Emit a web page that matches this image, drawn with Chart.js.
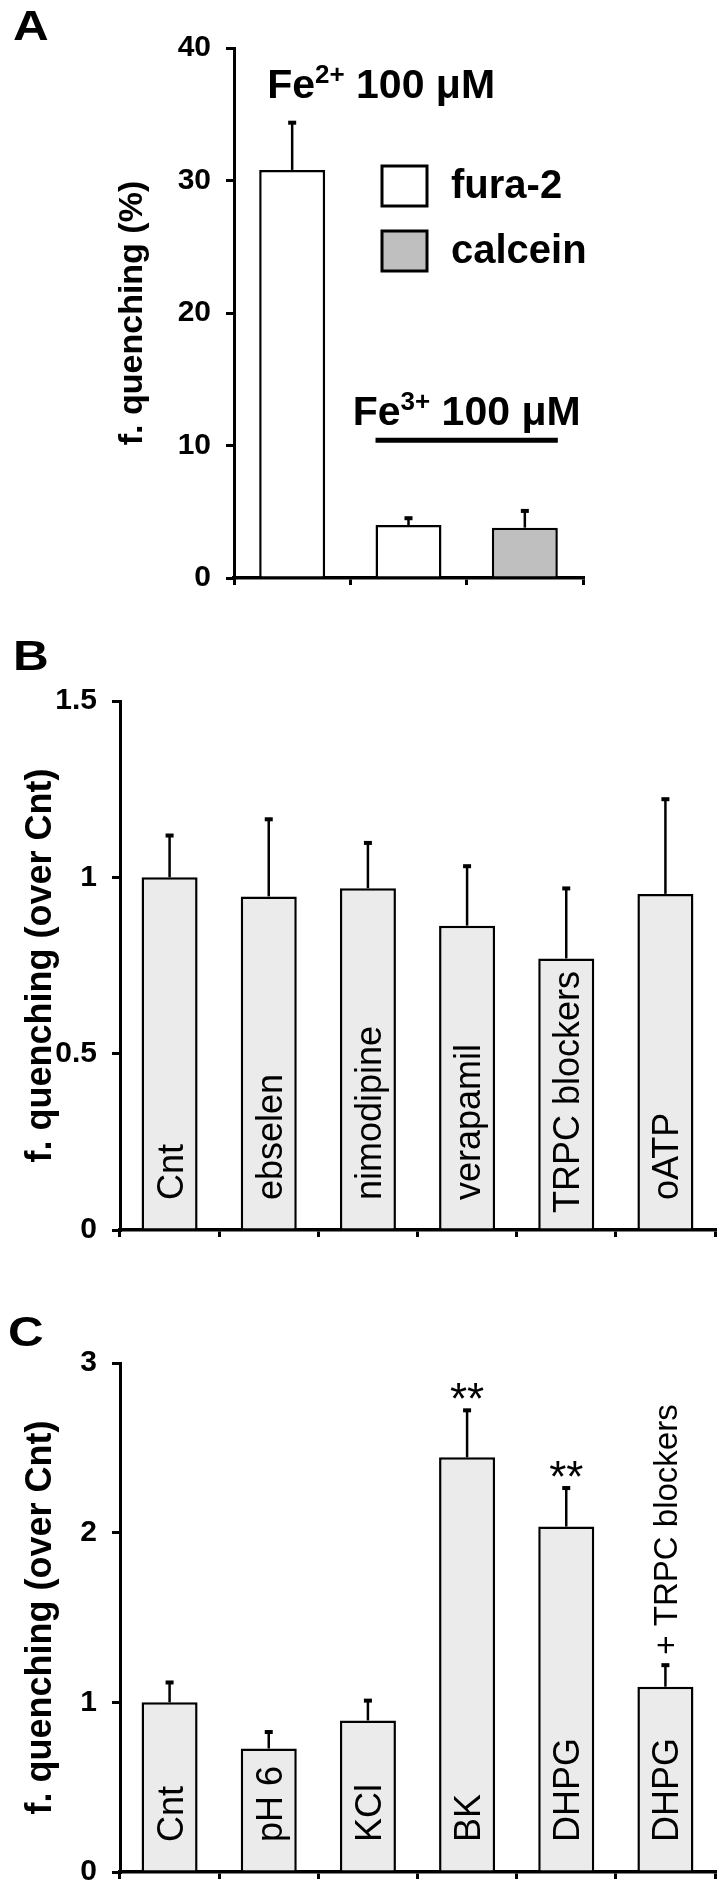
<!DOCTYPE html>
<html>
<head>
<meta charset="utf-8">
<script src="https://cdn.jsdelivr.net/npm/chart.js"></script>
<style>
    body { margin: 0; background: #fff; }
    #page { position: relative; width: 722px; height: 1902px; overflow: hidden; font-family: "Liberation Sans", Arial, sans-serif; }
    canvas { position: absolute; left: 0; }
    .letter { position: absolute; font-weight: bold; font-size: 43px; line-height: 1; color: #000; transform: scaleX(1.15); transform-origin: left top; }
</style>
</head>
<body>
<div id="page">
    <canvas id="chartA" width="722" height="620" style="top:0"></canvas>
    <canvas id="chartB" width="722" height="650" style="top:620px"></canvas>
    <canvas id="chartC" width="722" height="632" style="top:1270px"></canvas>
    <div class="letter" style="left:13px;top:4px">A</div>
    <div class="letter" style="left:13px;top:634px">B</div>
    <div class="letter" style="left:8px;top:1310px">C</div>
</div>
<script>
// ---- panel A: iron quenching ----
const ironLabels = ['Fe2+ fura-2', 'Fe3+ fura-2', 'Fe3+ calcein'];
const furaMeans = [30.8, 4.0, null];
const furaSem = [3.6, 0.55, null];
const calceinMeans = [null, null, 3.8];
const calceinSem = [null, null, 1.3];
const ticksA = [0, 10, 20, 30, 40];

// ---- panel B: blockers ----
const blockerLabels = ['Cnt', 'ebselen', 'nimodipine', 'verapamil', 'TRPC blockers', 'oATP'];
const blockerMeans = [1.00, 0.946, 0.969, 0.863, 0.770, 0.953];
const blockerSem = [0.12, 0.22, 0.13, 0.17, 0.20, 0.27];
const ticksB = [0, 0.5, 1, 1.5];

// ---- panel C: stimuli ----
const stimLabels = ['Cnt', 'pH 6', 'KCl', 'BK', 'DHPG', 'DHPG'];
const stimNotes = ['', '', '', '', '', '+ TRPC blockers'];
const stimMeans = [1.00, 0.728, 0.893, 2.444, 2.036, 1.092];
const stimSem = [0.12, 0.10, 0.12, 0.28, 0.23, 0.13];
const stimStars = ['', '', '', '**', '**', ''];
const ticksC = [0, 1, 2, 3];

const FONT = '"Liberation Sans", Arial, sans-serif';
Chart.defaults.font.family = FONT;
Chart.defaults.color = '#000';

// error bars (upper half only), drawn from dataset.sem
const errorBars = {
    id: 'errorBars',
    afterDatasetsDraw(chart) {
        const ctx = chart.ctx;
        const y = chart.scales.y;
        chart.data.datasets.forEach((ds, i) => {
            chart.getDatasetMeta(i).data.forEach((bar, j) => {
                const v = ds.data[j], e = ds.sem[j];
                if (v == null || e == null) return;
                const top = y.getPixelForValue(v + e);
                ctx.save();
                ctx.strokeStyle = '#000';
                ctx.fillStyle = '#000';
                ctx.lineWidth = 2.5;
                ctx.beginPath();
                ctx.moveTo(bar.x, bar.y);
                ctx.lineTo(bar.x, top);
                ctx.stroke();
                ctx.fillRect(bar.x - 4, top - 1.5, 8, 4);
                ctx.restore();
            });
        });
    }
};

// y axis title, rotated, centred on the plot area
const yTitle = {
    id: 'yTitle',
    afterDraw(chart, args, opts) {
        const ctx = chart.ctx;
        const a = chart.chartArea;
        ctx.save();
        ctx.fillStyle = '#000';
        ctx.font = 'bold ' + opts.size + 'px ' + FONT;
        ctx.textAlign = 'center';
        ctx.textBaseline = 'middle';
        ctx.translate(opts.x, (a.top + a.bottom) / 2);
        ctx.rotate(-Math.PI / 2);
        ctx.fillText(opts.text, 0, 0);
        ctx.restore();
    }
};

// text rotated to read upwards, starting at (x, y)
function drawUp(ctx, text, x, y) {
    ctx.save();
    ctx.translate(x, y);
    ctx.rotate(-Math.PI / 2);
    ctx.textAlign = 'left';
    ctx.textBaseline = 'alphabetic';
    ctx.fillText(text, 0, 0);
    ctx.restore();
}

// "Fe2+ 100 μM" with superscript charge
function drawIon(ctx, charge, x, y, align) {
    const big = 'bold 41px ' + FONT, small = 'bold 26px ' + FONT;
    ctx.save();
    ctx.fillStyle = '#000';
    ctx.textBaseline = 'alphabetic';
    ctx.textAlign = 'left';
    ctx.font = big;
    const w1 = ctx.measureText('Fe').width;
    const w3 = ctx.measureText(' 100 μM').width;
    ctx.font = small;
    const w2 = ctx.measureText(charge).width;
    let x0 = x;
    if (align === 'center') x0 = x - (w1 + w2 + w3) / 2;
    ctx.font = big;
    ctx.fillText('Fe', x0, y);
    ctx.font = small;
    ctx.fillText(charge, x0 + w1, y - 15);
    ctx.font = big;
    ctx.fillText(' 100 μM', x0 + w1 + w2, y);
    ctx.restore();
}

// panel A: legend, ion labels and the Fe3+ bracket line
const panelAExtras = {
    id: 'panelAExtras',
    afterDatasetsDraw(chart) {
        const ctx = chart.ctx;
        const y = chart.scales.y;
        const fura = chart.getDatasetMeta(0).data;
        const calc = chart.getDatasetMeta(1).data;

        drawIon(ctx, '2+', fura[0].x - fura[0].width / 2 + 8, y.getPixelForValue(36.2), 'left');

        const l = fura[1].x - fura[1].width / 2;
        const r = calc[2].x + calc[2].width / 2;
        drawIon(ctx, '3+', (l + r) / 2, y.getPixelForValue(11.55), 'center');
        ctx.save();
        ctx.strokeStyle = '#000';
        ctx.lineWidth = 5;
        ctx.beginPath();
        ctx.moveTo(l, y.getPixelForValue(10.4));
        ctx.lineTo(r, y.getPixelForValue(10.4));
        ctx.stroke();

        // legend
        chart.data.datasets.forEach((ds, i) => {
            const top = 166 + i * 65;
            ctx.fillStyle = ds.backgroundColor;
            ctx.fillRect(382, top, 45, 40);
            ctx.lineWidth = 3;
            ctx.strokeStyle = '#000';
            ctx.strokeRect(382, top, 45, 40);
            ctx.fillStyle = '#000';
            ctx.font = 'bold 40px ' + FONT;
            ctx.textBaseline = 'middle';
            ctx.fillText(ds.label, 451, top + 21);
        });
        ctx.restore();
    }
};

// panels B and C: labels inside bars, notes and stars above error bars
const barLabels = {
    id: 'barLabels',
    afterDatasetsDraw(chart, args, opts) {
        const ctx = chart.ctx;
        const y = chart.scales.y;
        const ds = chart.data.datasets[0];
        const zero = y.getPixelForValue(0);
        ctx.save();
        ctx.fillStyle = '#000';
        chart.getDatasetMeta(0).data.forEach((bar, i) => {
            ctx.font = '36px ' + FONT;
            const text = chart.data.labels[i];
            const w = ctx.measureText(text).width;
            let start = zero - 30;
            if (start - w < bar.y + 4) start = zero - 17;
            drawUp(ctx, text, bar.x + 13, start);

            const errTop = y.getPixelForValue(ds.data[i] + ds.sem[i]);
            const note = (opts.notes || [])[i];
            if (note) {
                ctx.font = '33px ' + FONT;
                drawUp(ctx, note, bar.x + 12, errTop - 10);
            }
            const star = (opts.stars || [])[i];
            if (star) {
                ctx.font = '44px ' + FONT;
                ctx.textAlign = 'center';
                ctx.textBaseline = 'alphabetic';
                ctx.fillText(star, bar.x, errTop + 4);
                ctx.textAlign = 'left';
            }
        });
        ctx.restore();
    }
};

function xAxis() {
    return {
        grid: { display: true, drawOnChartArea: false, drawTicks: true, tickLength: 7, color: '#000', lineWidth: 3, offset: true },
        border: { display: true, color: '#000', width: 3.5 },
        ticks: { display: false },
        afterFit: s => { s.height = 10; }
    };
}

function yAxis(max, ticks, width) {
    return {
        min: 0,
        max: max,
        afterBuildTicks: s => { s.ticks = ticks.map(v => ({ value: v })); },
        grid: { drawOnChartArea: false, drawTicks: true, tickLength: 8, color: '#000', lineWidth: 3 },
        border: { display: true, color: '#000', width: 3 },
        ticks: {
            padding: 15,
            color: '#000',
            font: { size: 30, weight: 'bold', lineHeight: 1 },
            callback: v => String(v)
        },
        afterFit: s => { s.width = width; }
    };
}

const noPopups = { legend: { display: false }, tooltip: { enabled: false } };

new Chart(document.getElementById('chartA'), {
    type: 'bar',
    data: {
        labels: ironLabels,
        datasets: [
            { label: 'fura-2', data: furaMeans, sem: furaSem, backgroundColor: '#ffffff', borderColor: '#000', borderWidth: 2.5, barPercentage: 0.567, categoryPercentage: 1 },
            { label: 'calcein', data: calceinMeans, sem: calceinSem, backgroundColor: '#bfbfbf', borderColor: '#000', borderWidth: 2.5, barPercentage: 0.567, categoryPercentage: 1 }
        ]
    },
    options: {
        responsive: false,
        animation: false,
        events: [],
        layout: { padding: { left: 0, top: 48, right: 139, bottom: 32 } },
        plugins: Object.assign({ yTitle: { text: 'f. quenching (%)', size: 34, x: 133 } }, noPopups),
        scales: {
            x: Object.assign(xAxis(), { stacked: true }),
            y: yAxis(40, ticksA, 234)
        }
    },
    plugins: [errorBars, panelAExtras, yTitle]
});

new Chart(document.getElementById('chartB'), {
    type: 'bar',
    data: {
        labels: blockerLabels,
        datasets: [
            { label: 'blockers', data: blockerMeans, sem: blockerSem, backgroundColor: '#ebebeb', borderColor: '#000', borderWidth: 2.5, barPercentage: 0.565, categoryPercentage: 1 }
        ]
    },
    options: {
        responsive: false,
        animation: false,
        events: [],
        layout: { padding: { left: 0, top: 81, right: 7, bottom: 30 } },
        plugins: Object.assign({ barLabels: {}, yTitle: { text: 'f. quenching (over Cnt)', size: 36, x: 41 } }, noPopups),
        scales: {
            x: xAxis(),
            y: yAxis(1.5, ticksB, 120)
        }
    },
    plugins: [errorBars, barLabels, yTitle]
});

new Chart(document.getElementById('chartC'), {
    type: 'bar',
    data: {
        labels: stimLabels,
        datasets: [
            { label: 'stimuli', data: stimMeans, sem: stimSem, backgroundColor: '#ebebeb', borderColor: '#000', borderWidth: 2.5, barPercentage: 0.565, categoryPercentage: 1 }
        ]
    },
    options: {
        responsive: false,
        animation: false,
        events: [],
        layout: { padding: { left: 0, top: 93, right: 7, bottom: 7 } },
        plugins: Object.assign({ barLabels: { notes: stimNotes, stars: stimStars }, yTitle: { text: 'f. quenching (over Cnt)', size: 36, x: 41 } }, noPopups),
        scales: {
            x: xAxis(),
            y: yAxis(3, ticksC, 120)
        }
    },
    plugins: [errorBars, barLabels, yTitle]
});
</script>
</body>
</html>
